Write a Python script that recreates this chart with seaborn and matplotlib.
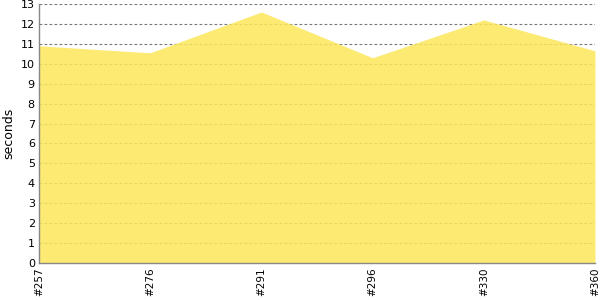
import matplotlib
matplotlib.use("Agg")
import matplotlib.pyplot as plt
import seaborn as sns
import pandas as pd
import numpy as np

builds = ["#257", "#276", "#291", "#296", "#330", "#360"]
seconds = [10.9, 10.55, 12.6, 10.3, 12.2, 10.65]

sns.set_style("white")
plt.rcParams['font.family'] = ['DejaVu Sans']

df = pd.DataFrame({"build": builds, "seconds": seconds})
df["pos"] = np.arange(len(builds))

fig = plt.figure(figsize=(6, 3), dpi=100)
ax = fig.add_axes([0.065, 0.1233, 0.9267, 0.8634])

sns.lineplot(data=df, x="pos", y="seconds", ax=ax, color="#FDEB73", linewidth=0)
ax.fill_between(df["pos"], df["seconds"], color=(0.99, 0.906, 0.353), alpha=0.85, linewidth=0, zorder=2)

ax.set_xlim(0, len(builds) - 1)
ax.set_ylim(0, 13)
ax.set_yticks(range(0, 14))
ax.set_xticks(df["pos"])
ax.set_xticklabels(builds, rotation=90, fontsize=7.5, color="black")
ax.tick_params(axis="y", labelsize=8, length=0, pad=3, labelcolor="black")
ax.tick_params(axis="x", length=0, pad=3)
ax.set_xlabel("")
ax.set_ylabel("seconds", fontsize=9, color="black")

ax.yaxis.grid(True, color="#777777", linestyle=(0, (2.5, 2)), linewidth=0.8, zorder=1)
ax.set_axisbelow(True)
for s in ["top", "right"]:
    ax.spines[s].set_visible(False)
for s in ["left", "bottom"]:
    ax.spines[s].set_color("#888888")
    ax.spines[s].set_linewidth(1)

fig.savefig("out.png", dpi=100)
